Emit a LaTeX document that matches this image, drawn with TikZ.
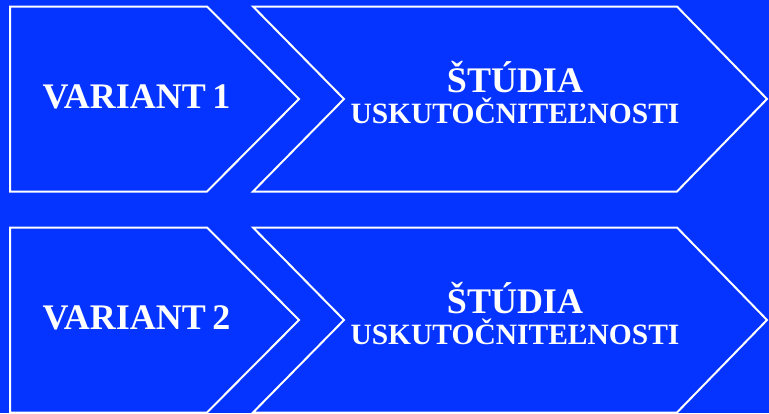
\documentclass[tikz,border=0pt]{standalone}
\usepackage{fontspec}
\setmainfont{Liberation Serif}
\definecolor{bgblue}{RGB}{5,51,255}
\begin{document}
\begin{tikzpicture}[x=1pt,y=-1pt,
  shapeline/.style={draw=white,line width=2pt,fill=bgblue,line join=miter},
  bigtxt/.style={text=white,font=\bfseries\fontsize{36}{37}\selectfont,inner sep=0pt,anchor=base},
  smalltxt/.style={text=white,font=\bfseries\fontsize{29.5}{30}\selectfont,inner sep=0pt,anchor=base}]
\fill[bgblue] (0,0) rectangle (769,413);
\useasboundingbox (0,0) rectangle (769,413);
\foreach \r/\n in {0/1,221/2}{
  \begin{scope}[yshift=-\r pt]
    \draw[shapeline] (10,6.5) -- (207,6.5) -- (299,99) -- (207,191.5) -- (10,191.5) -- cycle;
    \draw[shapeline] (253,6.5) -- (677,6.5) -- (767,99) -- (677,191.5) -- (253,191.5) -- (344,99) -- cycle;
    \node[bigtxt] (var\n) at (136.5,108) {VARIANT\hspace{0.18em}\n};
    \node[bigtxt] (stu\n) at (515,92) {ŠTÚDIA};
    \node[smalltxt] (usk\n) at (515,123) {USKUTOČNITEĽNOSTI};
  \end{scope}
}
\end{tikzpicture}
\end{document}
